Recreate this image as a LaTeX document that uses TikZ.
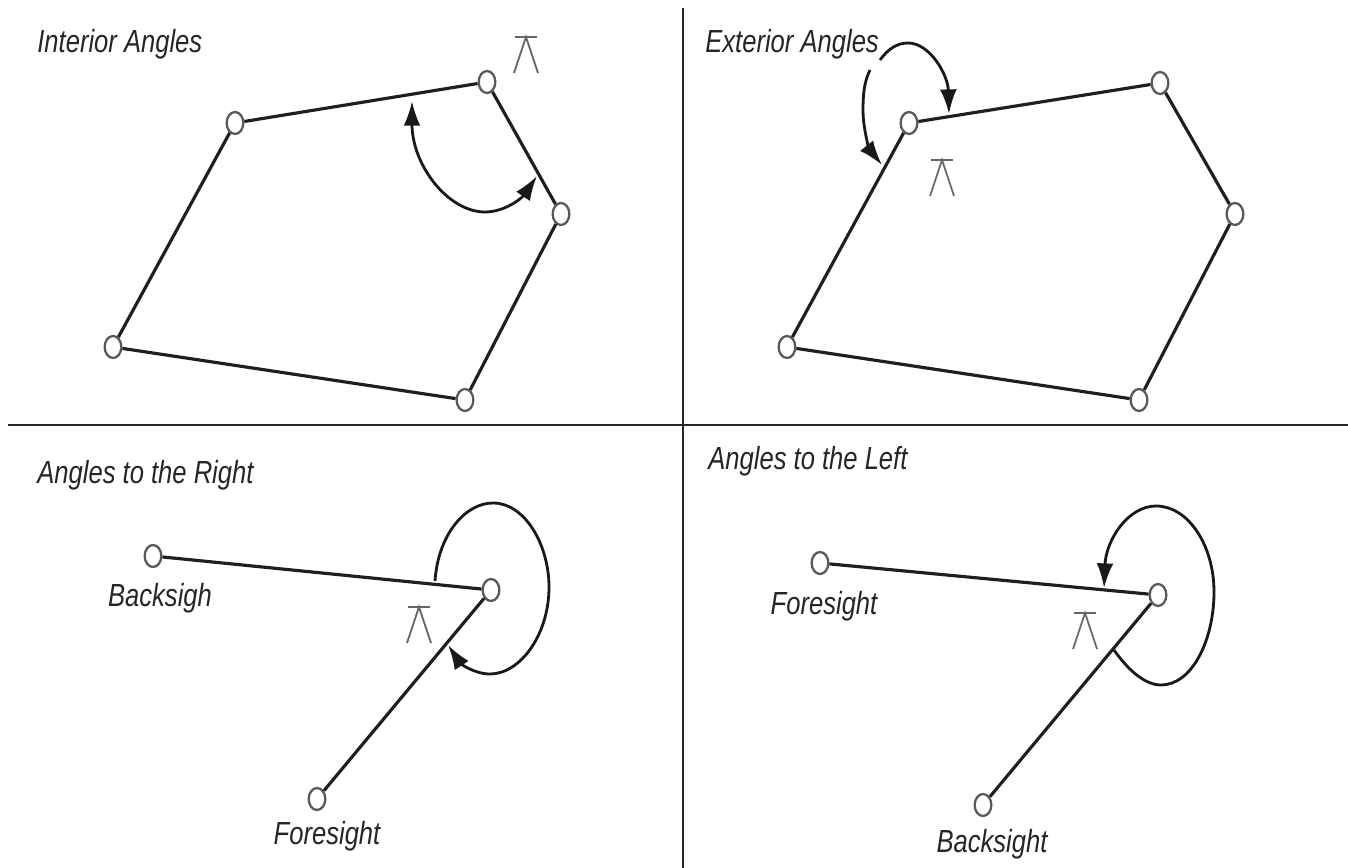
\documentclass[tikz,border=0pt]{standalone}
\usepackage{fontspec}
\setmainfont[FakeStretch=0.8]{Liberation Sans}
\usetikzlibrary{arrows.meta,shapes.geometric}
\tikzset{
  station/.style={draw=black!65,ellipse,fill=white,line width=1.3pt,minimum width=9.5pt,minimum height=12.5pt,inner sep=0pt},
  traverse/.style={line width=1.8pt,black!88},
  angle/.style={line width=1.6pt,black!90},
  label/.style={font=\itshape\fontsize{18.2}{20}\selectfont,text=black!85,inner sep=0pt}
}
\begin{document}
\begin{tikzpicture}[x=0.02cm,y=-0.02cm,>={Latex[length=14pt,width=9.5pt]}]
\useasboundingbox (0,0) rectangle (1348,868);
\fill[white] (0,0) rectangle (1348,868);

\coordinate (vtop) at (683,8);
\coordinate (vbot) at (683,868);
\coordinate (hleft) at (8,425);
\coordinate (hright) at (1348,425);
\draw[line width=1.4pt,black!85] (vtop) -- (vbot);
\draw[line width=1.4pt,black!85] (hleft) -- (hright);

\foreach \x/\y in {526/37,942/160,419/607,1085/613}{
  \draw[line width=1pt,black!60] (\x-11,\y) -- (\x+11,\y);
  \draw[line width=1pt,black!60] (\x-12,\y+36) -- (\x,\y) -- (\x+12,\y+36);
}

\node[label,anchor=base west] (interior) at (37,53) {Interior Angles};
\node[station] (a1) at (235,123) {};
\node[station] (a2) at (487,82) {};
\node[station] (a3) at (561,214) {};
\node[station] (a4) at (465,400) {};
\node[station] (a5) at (113,347) {};
\draw[traverse] (a1) -- (a2);
\draw[traverse] (a2) -- (a3);
\draw[traverse] (a3) -- (a4);
\draw[traverse] (a4) -- (a5);
\draw[traverse] (a5) -- (a1);
\draw[angle,<->] (412,101) .. controls (412,165) and (448,212) .. (485,212)
  .. controls (505,212) and (522,198) .. (537,176);

\node[label,anchor=base west] (exterior) at (705,53) {Exterior Angles};
\node[station] (b1) at (909,123) {};
\node[station] (b2) at (1160,83) {};
\node[station] (b3) at (1235,214) {};
\node[station] (b4) at (1139,400) {};
\node[station] (b5) at (787,347) {};
\draw[traverse] (b1) -- (b2);
\draw[traverse] (b2) -- (b3);
\draw[traverse] (b3) -- (b4);
\draw[traverse] (b4) -- (b5);
\draw[traverse] (b5) -- (b1);
\draw[angle,->] (880,60) .. controls (888,49) and (897,43) .. (908,43)
  .. controls (930,43) and (948,75) .. (949,114);
\draw[angle,->] (870,70) .. controls (864,82) and (863,95) .. (863,110)
  .. controls (863,130) and (870,150) .. (882,165);

\node[label,anchor=base west] (right) at (37,483) {Angles to the Right};
\node[station] (c1) at (153,556) {};
\node[station] (c2) at (491,590) {};
\node[station] (c3) at (317,799) {};
\node[label,anchor=base] (back1) at (160,606) {Backsigh};
\node[label,anchor=base] (fore1) at (327,844) {Foresight};
\draw[traverse] (c1) -- (c2);
\draw[traverse] (c2) -- (c3);
\draw[angle,->] (435,581) .. controls (438,535) and (465,503) .. (493,503)
  .. controls (525,503) and (549,545) .. (549,587)
  .. controls (549,635) and (520,674) .. (490,674)
  .. controls (474,674) and (460,663) .. (448,645);

\node[label,anchor=base west] (left) at (708,469) {Angles to the Left};
\node[station] (d1) at (820,563) {};
\node[station] (d2) at (1158,595) {};
\node[station] (d3) at (983,805) {};
\node[label,anchor=base] (fore2) at (824,614) {Foresight};
\node[label,anchor=base] (back2) at (992,852) {Backsight};
\draw[traverse] (d1) -- (d2);
\draw[traverse] (d2) -- (d3);
\draw[angle,->] (1114,650) .. controls (1128,670) and (1145,685) .. (1161,685)
  .. controls (1192,685) and (1214,640) .. (1214,592)
  .. controls (1214,545) and (1188,506) .. (1156,506)
  .. controls (1128,506) and (1106,540) .. (1104,588);
\end{tikzpicture}
\end{document}
